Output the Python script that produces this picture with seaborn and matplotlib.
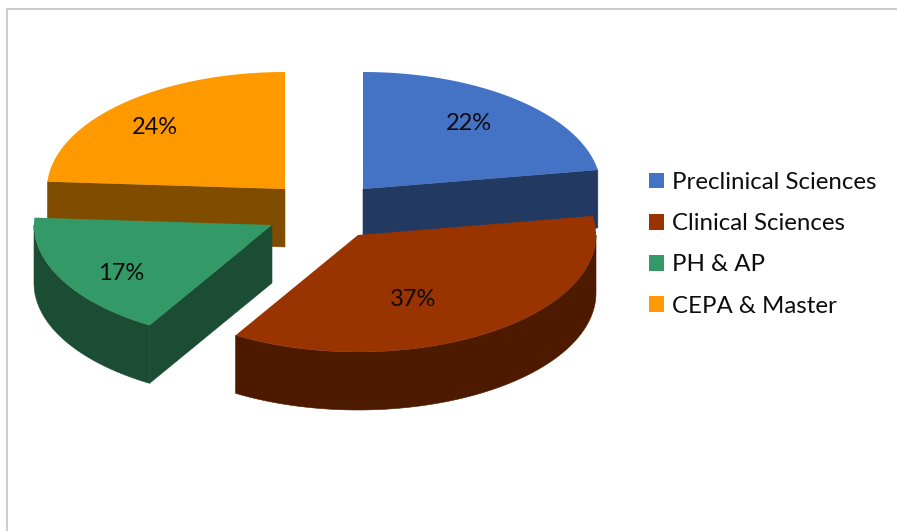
import numpy as np
import matplotlib
matplotlib.use("Agg")
import matplotlib.pyplot as plt
from matplotlib.patches import Patch
import seaborn as sns

categories = ["Preclinical Sciences", "Clinical Sciences", "PH & AP", "CEPA & Master"]
shares = [22.4, 36.2, 17.4, 24.0]
share_labels = ["22%", "37%", "17%", "24%"]
top_colors = ["#4472C4", "#993300", "#339966", "#FF9900"]

sns.set_theme(style="white")
plt.rcParams["font.family"] = ["Lato", "DejaVu Sans"]

W, H = 897, 531
RX, RY, DEPTH = 238.0, 117.0, 58.0
# Projected pie centre of every exploded slice, and where its label sits (pixels)
apexes = [(363, 189), (358, 235), (272, 225), (285, 189)]
label_offsets = [(106, -65), (55, 64), (-151, 48), (-130, -62)]
draw_order = [0, 3, 2, 1]

fig = plt.figure(figsize=(W / 100, H / 100), dpi=100, facecolor="white")
ax = fig.add_axes([0, 0, 1, 1])
ax.set_xlim(0, W)
ax.set_ylim(H, 0)
ax.axis("off")

ax.plot([6.5, 6.5, W], [H, 8.5, 8.5], color="#BFBFBF", lw=1.1, solid_joinstyle="miter", zorder=0)

palette = sns.color_palette(top_colors)
edges = np.cumsum([0] + shares) / sum(shares) * 2 * np.pi


def rim(cx, cy, t0, t1, n=160):
    t = np.linspace(t0, t1, n)
    return cx + RX * np.sin(t), cy - RY * np.cos(t)


z = 1
for i in draw_order:
    cx, cy = apexes[i]
    t0, t1 = edges[i], edges[i + 1]
    top = palette[i]
    side = tuple(c * 0.5 for c in top)

    # cut faces turned towards the viewer
    for t, facing in ((t0, np.sin(t0) < -1e-6), (t1, np.sin(t1) > 1e-6)):
        if facing:
            px, py = rim(cx, cy, t, t, 1)
            ax.fill([cx, px[0], px[0], cx], [cy, py[0], py[0] + DEPTH, cy + DEPTH],
                    facecolor=side, edgecolor=side, lw=0.4, zorder=z)
    # outer wall on the front half
    a, b = max(t0, np.pi / 2), min(t1, 1.5 * np.pi)
    if a < b:
        x, y = rim(cx, cy, a, b)
        ax.fill(np.r_[x, x[::-1]], np.r_[y, y[::-1] + DEPTH],
                facecolor=side, edgecolor=side, lw=0.4, zorder=z)
    # top surface
    x, y = rim(cx, cy, t0, t1)
    ax.fill(np.r_[cx, x], np.r_[cy, y], color=top, lw=0, zorder=z + 1)
    z += 2

for i, text in enumerate(share_labels):
    cx, cy = apexes[i]
    dx, dy = label_offsets[i]
    ax.text(cx + dx, cy + dy, text, ha="center", va="center",
            fontsize=17, color="#0D0D0D", zorder=50)

FS = 17.3
px = FS * 100 / 72
handles = [Patch(facecolor=c, edgecolor="none", label=l) for c, l in zip(palette, categories)]
ax.legend(handles=handles, loc="upper left", bbox_to_anchor=(648.5 / W, 1 - 172 / H),
          frameon=False, fontsize=FS, handlelength=15 / px, handleheight=15 / px,
          handletextpad=8 / px, labelspacing=(41.7 - 0.895 * px) / px, borderpad=0, borderaxespad=0,
          labelcolor="#0D0D0D")

fig.savefig("out.png", dpi=100, facecolor="white")
